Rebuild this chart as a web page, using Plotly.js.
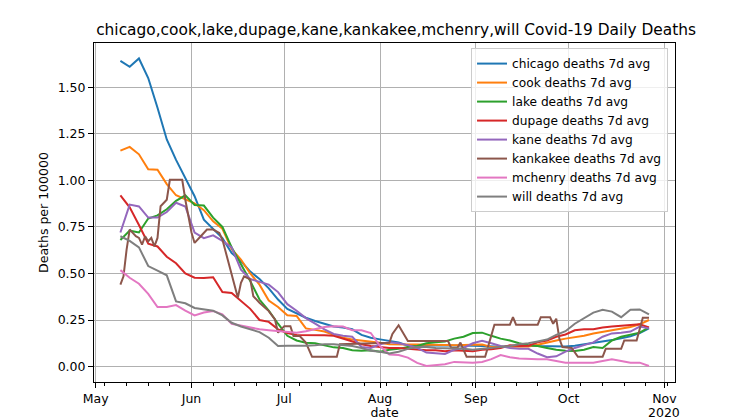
<!DOCTYPE html>
<html>
<head>
<meta charset="utf-8">
<script src="https://cdn.plot.ly/plotly-3.0.1.min.js"></script>
<style>
  body { margin: 0; background: #fff; }
  #chart { width: 750px; height: 420px; }
</style>
</head>
<body>
<div id="chart"></div>
<script>
// every 3rd day, May 9 to Oct 27 2020
var dates = [
    "2020-05-09","2020-05-12","2020-05-15","2020-05-18","2020-05-21","2020-05-24","2020-05-27","2020-05-30",
    "2020-06-02","2020-06-05","2020-06-08","2020-06-11","2020-06-14","2020-06-17","2020-06-20","2020-06-23","2020-06-26","2020-06-29",
    "2020-07-02","2020-07-05","2020-07-08","2020-07-11","2020-07-14","2020-07-17","2020-07-20","2020-07-23","2020-07-26","2020-07-29",
    "2020-08-01","2020-08-04","2020-08-07","2020-08-10","2020-08-13","2020-08-16","2020-08-19","2020-08-22","2020-08-25","2020-08-28","2020-08-31",
    "2020-09-03","2020-09-06","2020-09-09","2020-09-12","2020-09-15","2020-09-18","2020-09-21","2020-09-24","2020-09-27","2020-09-30",
    "2020-10-03","2020-10-06","2020-10-09","2020-10-12","2020-10-15","2020-10-18","2020-10-21","2020-10-24","2020-10-27"
];

var chicago = [1.642,1.61,1.655,1.55,1.39,1.22,1.11,1.01,0.915,0.789,0.74,0.69,0.61,0.566,0.51,0.47,0.42,0.36,
    0.31,0.285,0.262,0.245,0.228,0.215,0.21,0.20,0.17,0.155,0.146,0.14,0.13,0.112,0.11,0.112,0.114,0.114,0.115,0.114,0.112,
    0.11,0.108,0.107,0.11,0.112,0.112,0.11,0.108,0.108,0.108,0.112,0.119,0.128,0.135,0.142,0.152,0.162,0.18,0.205];

var cook = [1.16,1.18,1.14,1.06,1.057,0.98,0.92,0.90,0.877,0.84,0.78,0.74,0.63,0.575,0.50,0.44,0.355,0.32,
    0.275,0.272,0.205,0.197,0.188,0.17,0.155,0.145,0.14,0.135,0.128,0.12,0.118,0.118,0.119,0.119,0.118,0.116,0.114,0.114,0.116,
    0.118,0.105,0.105,0.105,0.105,0.108,0.117,0.13,0.14,0.15,0.157,0.165,0.177,0.186,0.192,0.205,0.212,0.227,0.25];

var lake = [0.68,0.73,0.72,0.795,0.812,0.845,0.89,0.92,0.868,0.865,0.80,0.75,0.64,0.55,0.46,0.36,0.30,0.23,
    0.165,0.14,0.128,0.125,0.115,0.103,0.10,0.088,0.085,0.088,0.08,0.09,0.095,0.105,0.11,0.125,0.13,0.135,0.15,0.16,0.18,
    0.182,0.165,0.15,0.14,0.125,0.115,0.11,0.10,0.09,0.085,0.084,0.09,0.105,0.10,0.14,0.16,0.173,0.182,0.21];

var dupage = [0.92,0.855,0.76,0.66,0.645,0.59,0.555,0.50,0.477,0.475,0.48,0.40,0.395,0.35,0.31,0.25,0.24,0.20,
    0.18,0.17,0.17,0.172,0.168,0.165,0.15,0.135,0.12,0.11,0.103,0.10,0.10,0.095,0.09,0.087,0.088,0.082,0.088,0.085,0.082,
    0.09,0.093,0.10,0.115,0.11,0.112,0.13,0.14,0.16,0.172,0.195,0.20,0.20,0.21,0.215,0.218,0.22,0.227,0.21];

var kane = [0.72,0.87,0.86,0.80,0.80,0.83,0.88,0.86,0.72,0.69,0.705,0.675,0.64,0.52,0.47,0.455,0.44,0.40,
    0.335,0.30,0.26,0.23,0.20,0.175,0.165,0.16,0.105,0.10,0.12,0.13,0.125,0.115,0.10,0.075,0.07,0.068,0.09,0.10,0.125,
    0.138,0.125,0.11,0.10,0.095,0.095,0.07,0.05,0.055,0.08,0.10,0.115,0.13,0.16,0.178,0.182,0.188,0.215,0.205];

var mchenry = [0.518,0.477,0.445,0.39,0.32,0.32,0.33,0.30,0.275,0.29,0.298,0.28,0.23,0.22,0.21,0.20,0.195,0.19,
    0.185,0.182,0.19,0.20,0.212,0.217,0.215,0.195,0.195,0.18,0.11,0.065,0.062,0.048,0.02,0.003,0.008,0.012,0.025,0.021,0.021,
    0.025,0.04,0.062,0.05,0.043,0.039,0.039,0.039,0.03,0.021,0.021,0.021,0.021,0.03,0.039,0.03,0.021,0.021,0.003];

var will = [0.70,0.675,0.64,0.54,0.515,0.49,0.35,0.34,0.315,0.307,0.30,0.275,0.235,0.215,0.20,0.185,0.155,0.11,
    0.112,0.11,0.112,0.115,0.12,0.12,0.115,0.11,0.10,0.085,0.08,0.07,0.08,0.095,0.105,0.105,0.10,0.10,0.098,0.096,0.09,
    0.095,0.10,0.102,0.11,0.12,0.125,0.135,0.145,0.17,0.19,0.23,0.26,0.29,0.305,0.295,0.265,0.305,0.307,0.28];

// kankakee moves in steps, so it gets its own break points
var kankakeeDates = [
    "2020-05-09","2020-05-10","2020-05-11","2020-05-12","2020-05-13","2020-05-14","2020-05-15","2020-05-16","2020-05-17",
    "2020-05-18","2020-05-19","2020-05-20","2020-05-21","2020-05-22","2020-05-24","2020-05-25","2020-05-29","2020-05-30",
    "2020-06-01","2020-06-02","2020-06-04","2020-06-06","2020-06-08","2020-06-10","2020-06-11","2020-06-13","2020-06-14",
    "2020-06-16","2020-06-17","2020-06-18","2020-06-20","2020-06-21","2020-06-23","2020-06-26","2020-06-28","2020-06-29",
    "2020-07-01","2020-07-03","2020-07-04","2020-07-06","2020-07-08","2020-07-10","2020-07-18","2020-07-19",
    "2020-08-04","2020-08-05","2020-08-07","2020-08-09","2020-08-10","2020-08-23","2020-08-24","2020-08-26","2020-08-27",
    "2020-08-29","2020-09-04","2020-09-07","2020-09-12","2020-09-13","2020-09-14","2020-09-21","2020-09-22","2020-09-25",
    "2020-09-26","2020-09-27","2020-09-28","2020-09-29","2020-10-02","2020-10-04","2020-10-12","2020-10-13","2020-10-18",
    "2020-10-19","2020-10-23","2020-10-25","2020-10-27"
];
var kankakee = [
    0.44,0.485,0.628,0.736,0.718,0.70,0.691,0.655,0.70,
    0.673,0.691,0.646,0.691,0.861,0.896,1.003,1.003,0.896,
    0.72,0.664,0.70,0.736,0.736,0.718,0.682,0.56,0.50,
    0.37,0.45,0.485,0.468,0.378,0.343,0.298,0.253,0.182,
    0.217,0.217,0.164,0.164,0.129,0.052,0.052,0.12,
    0.128,0.175,0.222,0.164,0.137,0.137,0.10,0.10,0.129,
    0.052,0.052,0.225,0.225,0.265,0.225,0.225,0.265,0.265,
    0.23,0.257,0.15,0.105,0.10,0.052,0.052,0.095,0.095,
    0.14,0.14,0.262,0.262
];

var names = ["chicago","cook","lake","dupage","kane","kankakee","mchenry","will"];
var colors = ["#1f77b4","#ff7f0e","#2ca02c","#d62728","#9467bd","#8c564b","#e377c2","#7f7f7f"];
var series = [chicago, cook, lake, dupage, kane, kankakee, mchenry, will];

var data = [];
for (let i = 0; i < names.length; i++) {
    data.push({
        type: "scatter",
        mode: "lines",
        name: names[i] + " deaths 7d avg",
        x: names[i] == "kankakee" ? kankakeeDates : dates,
        y: series[i],
        line: {color: colors[i], width: 2}
    });
}

var font = {family: "DejaVu Sans", size: 12.5, color: "#000"};

var layout = {
    width: 750,
    height: 420,
    margin: {l: 94, r: 75, t: 43, b: 38},
    paper_bgcolor: "#fff",
    plot_bgcolor: "#fff",
    font: font,
    showlegend: true,
    title: {
        text: "chicago,cook,lake,dupage,kane,kankakee,mchenry,will Covid-19 Daily Deaths",
        font: {family: "DejaVu Sans", size: 15.4, color: "#000"},
        xref: "paper", x: 0.52, xanchor: "center",
        yref: "container", y: 0.93, yanchor: "middle"
    },
    xaxis: {
        type: "date",
        range: ["2020-04-30 11:00", "2020-11-04 10:00"],
        tick0: "2020-05-01",
        dtick: "M1",
        tickformat: "%b",
        ticks: "outside",
        ticklen: 5,
        tickcolor: "#000",
        showline: true, mirror: true, linecolor: "#000", linewidth: 1,
        showgrid: true, gridcolor: "#b0b0b0", gridwidth: 1,
        zeroline: false,
        minor: {ticks: "outside", ticklen: 3, tickcolor: "#000", tick0: "2020-05-04", dtick: 7 * 86400000, showgrid: false},
        title: {text: "date", font: font, standoff: 9},
        automargin: false
    },
    yaxis: {
        range: [-0.083, 1.738],
        tickvals: [0, 0.25, 0.5, 0.75, 1.0, 1.25, 1.5],
        tickformat: ".2f",
        ticks: "outside",
        ticklen: 5,
        tickcolor: "#000",
        showline: true, mirror: true, linecolor: "#000", linewidth: 1,
        showgrid: true, gridcolor: "#b0b0b0", gridwidth: 1,
        zeroline: false,
        title: {text: "Deaths per 100000", font: font, standoff: 6},
        automargin: false
    },
    legend: {
        x: 0.988, xanchor: "right",
        y: 0.985, yanchor: "top",
        bgcolor: "rgba(255,255,255,0.8)",
        bordercolor: "#cccccc",
        borderwidth: 1,
        font: {family: "DejaVu Sans", size: 12.2, color: "#000"},
        itemwidth: 30
    },
    annotations: [{
        text: "2020",
        xref: "x", x: "2020-11-01",
        yref: "paper", y: -0.09, yanchor: "middle",
        showarrow: false,
        font: font
    }]
};

Plotly.newPlot("chart", data, layout, {staticPlot: true});
</script>
</body>
</html>
